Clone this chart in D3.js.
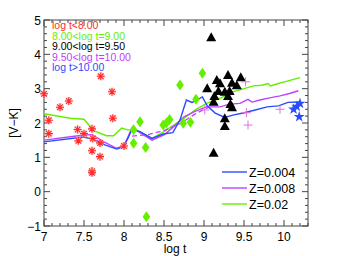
<!DOCTYPE html>
<html><head><meta charset="utf-8">
<script src="https://cdn.jsdelivr.net/npm/d3@7"></script>
<style>body{margin:0;background:#fff}svg{display:block}text{font-family:"Liberation Sans",Arial,sans-serif}</style>
</head><body>
<script>
// ---- data ----
const xTicks = [7, 7.5, 8, 8.5, 9, 9.5, 10];
const yTicks = [-1, 0, 1, 2, 3, 4, 5];
const groupLabels = ["log t<8.00", "8.00<log t=9.00", "9.00<log t=9.50", "9.50<log t=10.00", "log t>10.00"];
const modelLabels = ["Z=0.004", "Z=0.008", "Z=0.02"];

const redStars = [[7.0,2.85],[7.06,2.08],[7.06,1.69],[7.2,2.46],[7.31,2.64],[7.42,1.81],[7.43,1.48],[7.5,1.69],
  [7.6,1.83],[7.61,1.55],[7.71,3.36],[7.7,1.42],[7.6,1.19],[7.7,1.02],[7.6,0.6],[7.6,0.55],[7.85,2.91],[7.86,2.14],[8.0,1.33]];
const greenDiamonds = [[8.12,1.8],[8.2,2.04],[8.12,1.41],[8.27,1.29],[8.49,1.94],[8.53,2.0],[8.57,2.1],[8.74,1.99],
  [8.83,2.02],[8.9,2.69],[8.7,3.11],[8.98,3.45],[8.28,-0.73]];
const blackTriangles = [[9.09,4.5],[9.3,3.4],[9.46,3.33],[9.16,3.25],[9.2,3.16],[9.35,3.17],[9.41,3.1],[9.04,3.01],
  [9.18,2.93],[9.26,2.91],[9.32,2.93],[9.3,2.79],[9.13,2.79],[9.12,2.62],[9.33,2.55],[9.35,2.46],[9.26,2.14],[9.26,1.91],[9.12,1.13]];
const purpleCrosses = [[9.52,3.2],[9.53,2.3],[9.55,1.94],[9.95,2.4],[9.01,2.38]];
const blueStars = [[10.12,2.4],[10.16,2.48],[10.2,2.57],[10.19,2.18]];

const modelZ004 = [[7.0,1.45],[7.49,1.59],[7.61,1.53],[7.76,1.36],[7.91,1.24],[7.99,1.3],[8.05,1.56],[8.1,1.82],[8.2,1.75],
  [8.35,1.55],[8.49,1.68],[8.61,1.72],[8.7,2.09],[8.78,2.67],[8.85,2.6],[8.91,2.67],[8.98,2.76],[9.04,2.5],[9.14,2.29],
  [9.26,2.16],[9.36,2.23],[9.49,2.29],[9.64,2.38],[9.79,2.47],[9.93,2.5],[10.05,2.6],[10.19,2.61]];
const modelZ008 = [[7.0,1.5],[7.5,1.65],[7.6,1.66],[7.75,1.45],[7.9,1.27],[8.0,1.33],[8.05,1.6],[8.1,1.86],[8.2,1.72],
  [8.35,1.5],[8.5,1.65],[8.6,1.85],[8.75,2.18],[8.88,2.33],[9.03,2.47],[9.2,2.47],[9.32,2.55],[9.45,2.57],[9.55,2.69],
  [9.6,2.61],[9.7,2.67],[9.82,2.73],[9.95,2.79],[10.07,2.86],[10.18,2.94]];
const modelZ008b = [[8.1,1.62],[8.3,1.66],[8.5,1.78],[8.7,1.98],[8.9,2.28],[9.05,2.45]];
const modelZ02 = [[7.0,2.27],[7.33,2.14],[7.5,2.11],[7.62,1.78],[7.78,1.63],[7.87,1.63],[7.97,1.85],[8.05,1.8],[8.15,1.8],
  [8.2,1.74],[8.35,1.55],[8.5,1.75],[8.62,1.94],[8.75,2.13],[8.9,2.4],[9.04,2.58],[9.2,2.72],[9.35,2.9],[9.5,3.0],
  [9.62,3.08],[9.72,3.1],[9.8,3.15],[9.83,3.08],[9.93,3.15],[10.04,3.22],[10.12,3.27],[10.2,3.32]];

// ---- layout ----
const W = 341, H = 256;
const m = {l:44, t:20, r:308, b:226};
const x = d3.scaleLinear().domain([7, 10.3]).range([m.l, m.r]);
const y = d3.scaleLinear().domain([-1, 5]).range([m.b, m.t]);
const C = {red:"#ff2a2a", green:"#66ee00", black:"#000", purple:"#c040ff", blue:"#2a4cff"};

const svg = d3.select("body").append("svg").attr("width", W).attr("height", H);
const axCol = "#444";

// frame
svg.append("rect").attr("x", m.l).attr("y", m.t).attr("width", m.r-m.l).attr("height", m.b-m.t)
  .attr("fill","none").attr("stroke", axCol).attr("stroke-width",1);

// ticks (inward, all sides)
const xMinor = d3.range(70, 104).map(v => v/10);
const yMinor = d3.range(-5, 26).map(v => v/5);
const tk = svg.append("g").attr("stroke", axCol).attr("stroke-width",1);
xMinor.forEach(v => {
  const major = xTicks.some(t => Math.abs(t-v)<1e-6);
  const L = major ? 6 : 3;
  tk.append("line").attr("x1",x(v)).attr("x2",x(v)).attr("y1",m.b).attr("y2",m.b-L);
  tk.append("line").attr("x1",x(v)).attr("x2",x(v)).attr("y1",m.t).attr("y2",m.t+L);
});
yMinor.forEach(v => {
  const major = yTicks.some(t => Math.abs(t-v)<1e-6);
  const L = major ? 6 : 3;
  tk.append("line").attr("y1",y(v)).attr("y2",y(v)).attr("x1",m.l).attr("x2",m.l+L);
  tk.append("line").attr("y1",y(v)).attr("y2",y(v)).attr("x1",m.r).attr("x2",m.r-L);
});

// tick labels
xTicks.forEach(v => svg.append("text").attr("x", x(v)).attr("y", m.b+15).attr("text-anchor","middle")
  .attr("font-size",12).text(String(v)));
yTicks.forEach(v => svg.append("text").attr("x", m.l-3).attr("y", y(v)+4.5).attr("text-anchor","end")
  .attr("font-size",12).text(v < 0 ? "\u2212" + Math.abs(v) : String(v)));

svg.append("text").attr("x", 175).attr("y", 253).attr("text-anchor","middle").attr("font-size",12).text("log t");
svg.append("text").attr("transform","translate(18,123) rotate(-90)").attr("text-anchor","middle")
  .attr("font-size",12).text("[V\u2212K]");

// model lines
const line = d3.line().x(d => x(d[0])).y(d => y(d[1]));
const plot = svg.append("g");
plot.append("path").datum(modelZ02).attr("d", line).attr("fill","none").attr("stroke", C.green).attr("stroke-width",1.4);
plot.append("path").datum(modelZ008).attr("d", line).attr("fill","none").attr("stroke", C.purple).attr("stroke-width",1.4);
plot.append("path").datum(modelZ008b).attr("d", line).attr("fill","none").attr("stroke", C.purple).attr("stroke-width",1.3).attr("stroke-dasharray","5,3");
plot.append("path").datum(modelZ004).attr("d", line).attr("fill","none").attr("stroke", C.blue).attr("stroke-width",1.4);

// symbols
plot.selectAll(".ast").data(redStars).join("g").attr("transform", d => `translate(${x(d[0])},${y(d[1])})`)
  .each(function(){
    const g = d3.select(this);
    g.append("circle").attr("r",4).attr("fill","#ffb0b0").attr("opacity",0.5);
    g.append("path").attr("d","M-4,0H4M0,-4V4M-2.8,-2.8L2.8,2.8M-2.8,2.8L2.8,-2.8")
      .attr("stroke", C.red).attr("stroke-width",1.1);
  });
plot.selectAll(".dia").data(greenDiamonds).join("path")
  .attr("d","M0,-5.5L3.8,0L0,5.5L-3.8,0Z").attr("fill", C.green)
  .attr("transform", d => `translate(${x(d[0])},${y(d[1])})`);
plot.selectAll(".tri").data(blackTriangles).join("path")
  .attr("d","M0,-5L5,4L-5,4Z").attr("fill", C.black)
  .attr("transform", d => `translate(${x(d[0])},${y(d[1])})`);
plot.selectAll(".crs").data(purpleCrosses).join("path")
  .attr("d","M-4.5,0H4.5M0,-4.5V4.5").attr("stroke","#e070e0").attr("stroke-width",1)
  .attr("transform", d => `translate(${x(d[0])},${y(d[1])})`);
plot.selectAll(".str").data(blueStars).join("path")
  .attr("d", d3.symbol().type(d3.symbolStar).size(38)).attr("fill", C.blue)
  .attr("transform", d => `translate(${x(d[0])},${y(d[1])})`);

// group legend (top-left)
const gCols = [C.red, C.green, C.black, C.purple, C.blue];
groupLabels.forEach((t,i) => svg.append("text").attr("x", 52).attr("y", 29 + i*10.5)
  .attr("font-size",10.5).attr("fill", gCols[i]).text(t));

// model legend (bottom-right)
const mCols = [C.blue, C.purple, C.green];
modelLabels.forEach((t,i) => {
  const yy = 172 + i*16;
  svg.append("line").attr("x1",222).attr("x2",247).attr("y1",yy).attr("y2",yy)
    .attr("stroke", mCols[i]).attr("stroke-width",1.4);
  svg.append("text").attr("x",249).attr("y",yy+4.5).attr("font-size",12.5).text(t);
});
</script>
</body></html>
